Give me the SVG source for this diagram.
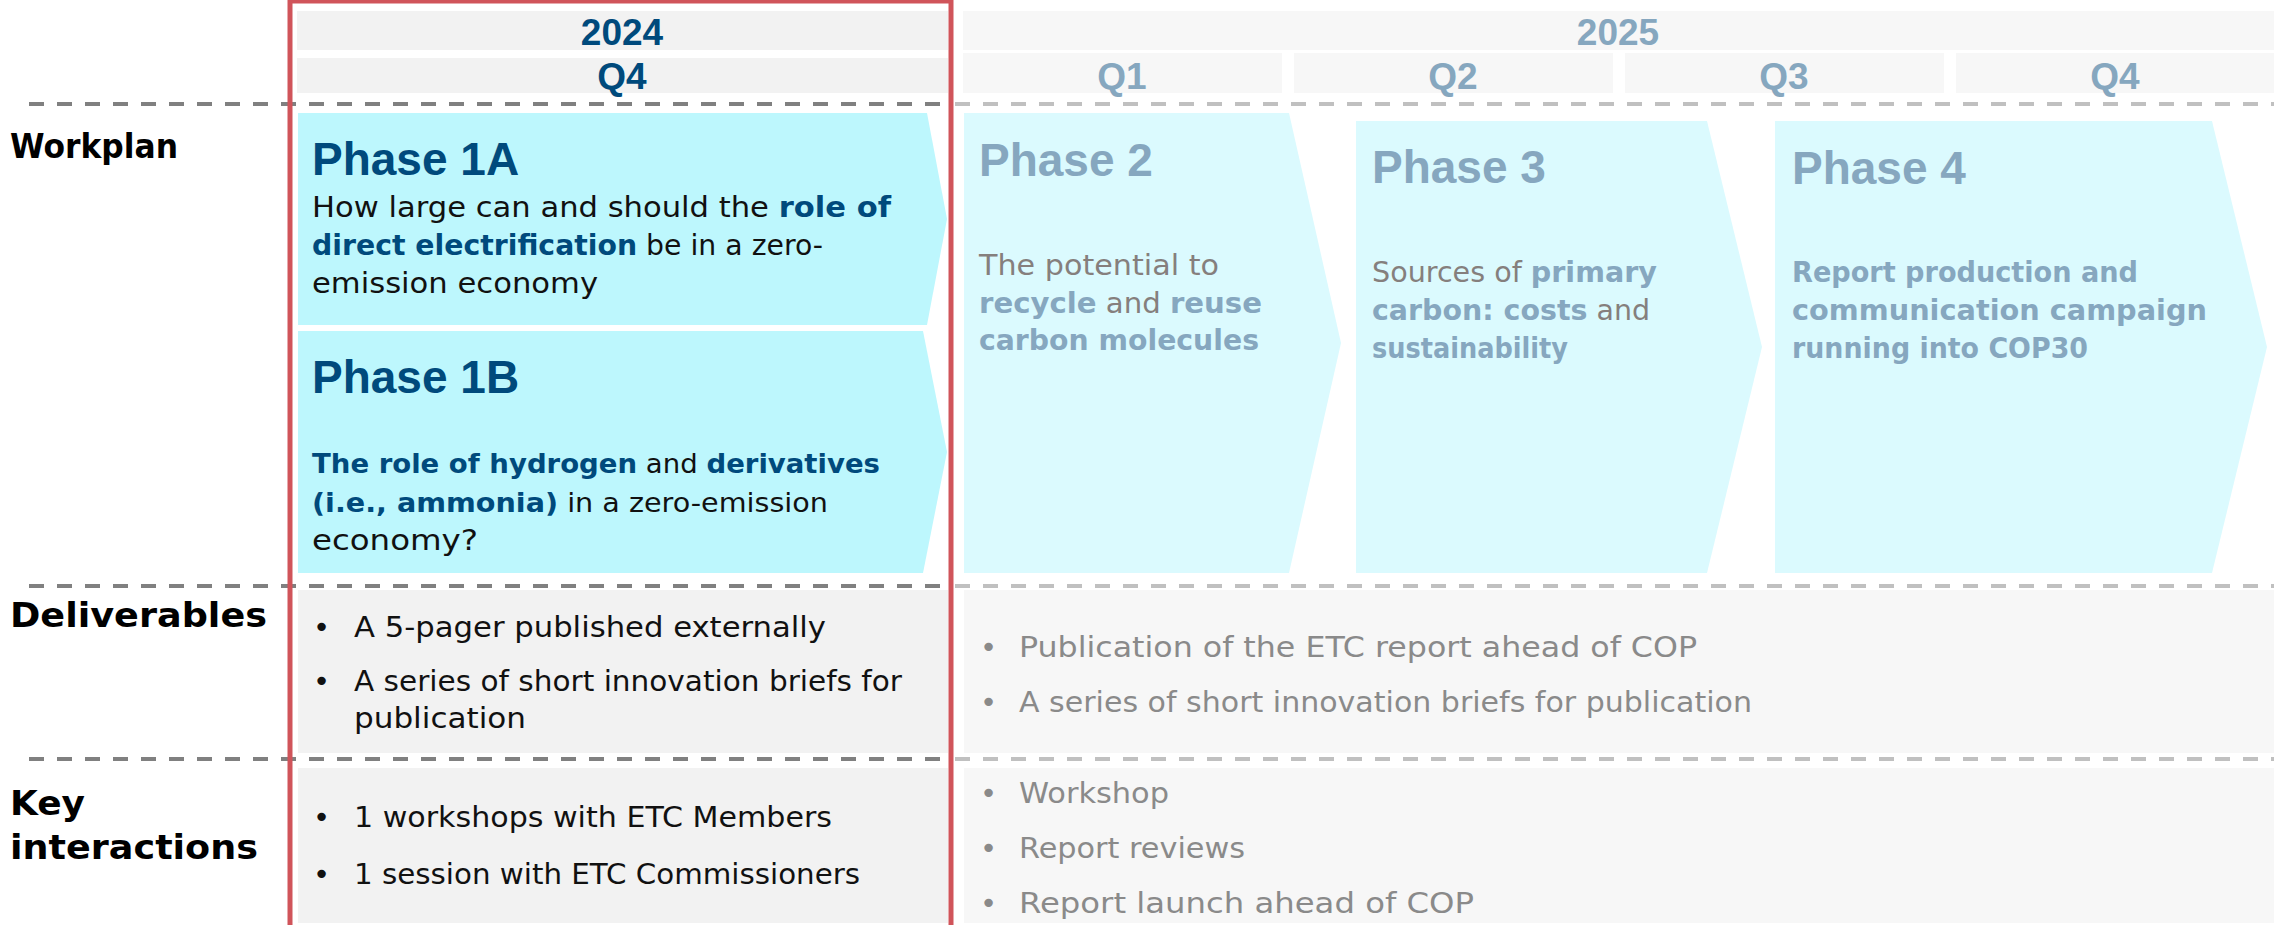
<svg xmlns="http://www.w3.org/2000/svg" width="2274" height="925" viewBox="0 0 2274 925">
<style>
.hdr{font-family:"Liberation Sans",Arial,sans-serif;font-weight:bold;font-size:37px;text-anchor:middle}
.c24{fill:#004a7c}
.c25{fill:#86a7bf}
.title{font-family:"Liberation Sans",Arial,sans-serif;font-weight:bold;font-size:46px}
.body{font-family:"DejaVu Sans",Verdana,sans-serif;font-size:29px}
.s28{font-size:28px}
.s27{font-size:27px}
.b{font-weight:bold}
.k1{fill:#111111}
.g1{fill:#857f7d}
.g2{fill:#8a8a8a}
.lbl{font-family:"DejaVu Sans",Verdana,sans-serif;font-weight:bold;font-size:33px;fill:#000000}
.box24{fill:#f2f2f2}
.box25{fill:#f7f7f7}
.ph1{fill:#bdf7fd}
.ph2{fill:#dbfafe}
.dd{stroke:#808080;stroke-width:4;stroke-dasharray:15 13;fill:none}
.dl{stroke:#c0c0c0;stroke-width:4;stroke-dasharray:15 13;fill:none}
</style>

<g id="header-2024">
<rect class="box24" x="297" y="11" width="651" height="39"/>
<rect class="box24" x="297" y="58" width="651" height="35"/>
<text class="hdr c24" x="622" y="45">2024</text>
<text class="hdr c24" x="622" y="89">Q4</text>
</g>

<g id="header-2025">
<rect class="box25" x="963" y="11" width="1311" height="39"/>
<rect class="box25" x="963" y="53" width="319" height="40"/>
<rect class="box25" x="1294" y="53" width="319" height="40"/>
<rect class="box25" x="1625" y="53" width="319" height="40"/>
<rect class="box25" x="1956" y="53" width="318" height="40"/>
<text class="hdr c25" x="1618" y="45">2025</text>
<text class="hdr c25" x="1122" y="89">Q1</text>
<text class="hdr c25" x="1453" y="89">Q2</text>
<text class="hdr c25" x="1784" y="89">Q3</text>
<text class="hdr c25" x="2115" y="89">Q4</text>
</g>

<g id="label-workplan"><text class="lbl" x="10" y="158" textLength="168" lengthAdjust="spacingAndGlyphs">Workplan</text></g>
<g id="label-deliverables"><text class="lbl" x="10" y="627" textLength="257" lengthAdjust="spacingAndGlyphs">Deliverables</text></g>
<g id="label-key-interactions">
<text class="lbl" x="10" y="815" textLength="75" lengthAdjust="spacingAndGlyphs">Key</text>
<text class="lbl" x="10" y="859" textLength="248" lengthAdjust="spacingAndGlyphs">interactions</text>
</g>

<g id="phase-1a">
<polygon class="ph1" points="298,113 927,113 947,219 927,325 298,325"/>
<text class="title c24" x="312" y="175">Phase 1A</text>
<text class="body k1" x="312" y="217" textLength="579" lengthAdjust="spacingAndGlyphs">How large can and should the <tspan class="b c24">role of</tspan></text>
<text class="body s28 k1" x="312" y="255" textLength="511" lengthAdjust="spacingAndGlyphs"><tspan class="b c24">direct electrification</tspan> be in a zero-</text>
<text class="body k1" x="312" y="293" textLength="286" lengthAdjust="spacingAndGlyphs">emission economy</text>
</g>

<g id="phase-1b">
<polygon class="ph1" points="298,331 923,331 947,452 923,573 298,573"/>
<text class="title c24" x="312" y="393">Phase 1B</text>
<text class="body s27 k1" x="312" y="473" textLength="568" lengthAdjust="spacingAndGlyphs"><tspan class="b c24">The role of hydrogen</tspan> and <tspan class="b c24">derivatives</tspan></text>
<text class="body s27 k1" x="312" y="512" textLength="516" lengthAdjust="spacingAndGlyphs"><tspan class="b c24">(i.e., ammonia)</tspan> in a zero-emission</text>
<text class="body k1" x="312" y="550" textLength="166" lengthAdjust="spacingAndGlyphs">economy?</text>
</g>

<g id="phase-2">
<polygon class="ph2" points="964,113 1289,113 1341,343 1289,573 964,573"/>
<text class="title c25" x="979" y="176">Phase 2</text>
<text class="body g1" x="979" y="275" textLength="240" lengthAdjust="spacingAndGlyphs">The potential to</text>
<text class="body g1" x="979" y="313" textLength="283" lengthAdjust="spacingAndGlyphs"><tspan class="b c25">recycle</tspan> and <tspan class="b c25">reuse</tspan></text>
<text class="body b c25" x="979" y="350" textLength="280" lengthAdjust="spacingAndGlyphs">carbon molecules</text>
</g>

<g id="phase-3">
<polygon class="ph2" points="1356,121 1707,121 1762,347 1707,573 1356,573"/>
<text class="title c25" x="1372" y="183">Phase 3</text>
<text class="body s28 g1" x="1372" y="282" textLength="285" lengthAdjust="spacingAndGlyphs">Sources of <tspan class="b c25">primary</tspan></text>
<text class="body s28 g1" x="1372" y="320" textLength="278" lengthAdjust="spacingAndGlyphs"><tspan class="b c25">carbon: costs</tspan> and</text>
<text class="body b c25" x="1372" y="358" textLength="196" lengthAdjust="spacingAndGlyphs">sustainability</text>
</g>

<g id="phase-4">
<polygon class="ph2" points="1775,121 2212,121 2267,347 2212,573 1775,573"/>
<text class="title c25" x="1792" y="184">Phase 4</text>
<text class="body b c25" x="1792" y="282" textLength="346" lengthAdjust="spacingAndGlyphs">Report production and</text>
<text class="body b c25" x="1792" y="320" textLength="415" lengthAdjust="spacingAndGlyphs">communication campaign</text>
<text class="body b c25" x="1792" y="358" textLength="296" lengthAdjust="spacingAndGlyphs">running into COP30</text>
</g>

<g id="deliverables-2024">
<rect class="box24" x="298" y="590" width="650" height="163"/>
<text class="body k1" x="313" y="637">•</text>
<text class="body k1" x="354" y="637" textLength="472" lengthAdjust="spacingAndGlyphs">A 5-pager published externally</text>
<text class="body k1" x="313" y="691">•</text>
<text class="body k1" x="354" y="691" textLength="548" lengthAdjust="spacingAndGlyphs">A series of short innovation briefs for</text>
<text class="body k1" x="354" y="728" textLength="172" lengthAdjust="spacingAndGlyphs">publication</text>
</g>

<g id="deliverables-2025">
<rect class="box25" x="964" y="590" width="1310" height="163"/>
<text class="body g2" x="980" y="657">•</text>
<text class="body g2" x="1019" y="657" textLength="678" lengthAdjust="spacingAndGlyphs">Publication of the ETC report ahead of COP</text>
<text class="body g2" x="980" y="712">•</text>
<text class="body g2" x="1019" y="712" textLength="733" lengthAdjust="spacingAndGlyphs">A series of short innovation briefs for publication</text>
</g>

<g id="interactions-2024">
<rect class="box24" x="298" y="768" width="650" height="155"/>
<text class="body k1" x="313" y="827">•</text>
<text class="body k1" x="354" y="827" textLength="478" lengthAdjust="spacingAndGlyphs">1 workshops with ETC Members</text>
<text class="body k1" x="313" y="884">•</text>
<text class="body k1" x="354" y="884" textLength="506" lengthAdjust="spacingAndGlyphs">1 session with ETC Commissioners</text>
</g>

<g id="interactions-2025">
<rect class="box25" x="964" y="768" width="1310" height="155"/>
<text class="body g2" x="980" y="803">•</text>
<text class="body g2" x="1019" y="803" textLength="150" lengthAdjust="spacingAndGlyphs">Workshop</text>
<text class="body g2" x="980" y="858">•</text>
<text class="body g2" x="1019" y="858" textLength="226" lengthAdjust="spacingAndGlyphs">Report reviews</text>
<text class="body g2" x="980" y="913">•</text>
<text class="body g2" x="1019" y="913" textLength="455" lengthAdjust="spacingAndGlyphs">Report launch ahead of COP</text>
</g>

<g id="dividers">
<line class="dd" x1="29" y1="104" x2="950" y2="104"/>
<line class="dl" x1="955" y1="104" x2="2274" y2="104"/>
<line class="dd" x1="29" y1="586" x2="950" y2="586"/>
<line class="dl" x1="955" y1="586" x2="2274" y2="586"/>
<line class="dd" x1="29" y1="759" x2="950" y2="759"/>
<line class="dl" x1="955" y1="759" x2="2274" y2="759"/>
</g>

<g id="highlight-2024">
<rect x="290" y="1" width="661" height="935" fill="none" stroke="#d0545a" stroke-width="5"/>
</g>
</svg>
